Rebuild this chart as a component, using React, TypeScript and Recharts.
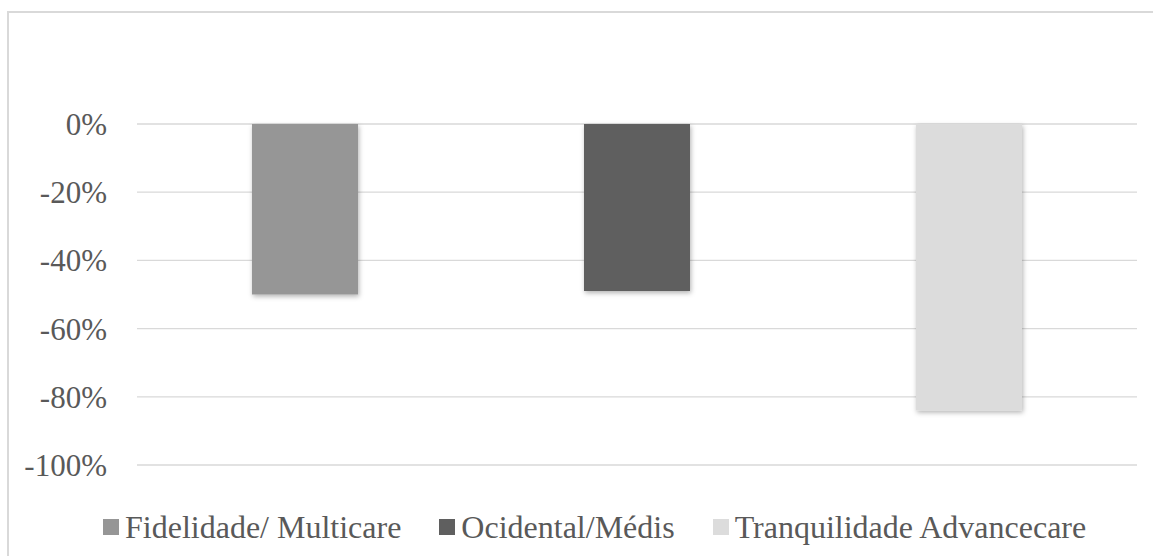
import { BarChart, Bar, XAxis, YAxis, CartesianGrid, Legend } from "recharts";

const seriesNames = ["Fidelidade/ Multicare", "Ocidental/Médis", "Tranquilidade Advancecare"];
const seriesValues = [-0.5, -0.49, -0.84];
const seriesColors = ["#969696", "#5f5f5f", "#dcdcdc"];
const yTicks = [0, -0.2, -0.4, -0.6, -0.8, -1];

const row: Record<string, number | string> = { name: "Variação" };
seriesNames.forEach((_, i) => {
  row[`s${i}`] = seriesValues[i];
});
const data = [row];

const font = "'Liberation Serif', 'Times New Roman', serif";

function LegendContent({ payload }: any) {
  return (
    <div style={{ display: "flex", alignItems: "center", height: 44, paddingLeft: 103, fontFamily: font, fontSize: 32, color: "#595959" }}>
      {(payload || []).map((p: any, i: number) => (
        <div key={i} style={{ display: "flex", alignItems: "center", marginRight: 38 }}>
          <span style={{ display: "inline-block", width: 16, height: 16, background: p.color, marginRight: 6 }} />
          <span style={{ whiteSpace: "nowrap" }}>{p.value}</span>
        </div>
      ))}
    </div>
  );
}

export default function App() {
  return (
    <div style={{ position: "absolute", left: 0, top: 0, width: 1153, height: 556, overflow: "hidden", background: "#fff" }}>
      <svg width={0} height={0} style={{ position: "absolute" }}>
        <defs>
          <filter id="barShadow" x="-20%" y="-20%" width="140%" height="140%">
            <feDropShadow dx={1} dy={2} stdDeviation={2.5} floodColor="#000" floodOpacity={0.3} />
          </filter>
        </defs>
      </svg>
      <div style={{ position: "absolute", left: 7, top: 11, width: 1300, height: 700, border: "2px solid #d9d9d9", boxSizing: "border-box" }} />
      <BarChart
        width={1153}
        height={556}
        data={data}
        margin={{ top: 124, right: 16, bottom: 47, left: 0 }}
        barSize={106}
        barGap={226}
        style={{ position: "absolute", left: 0, top: 0 }}
      >
        <CartesianGrid vertical={false} stroke="#d9d9d9" strokeWidth={1.3} />
        <XAxis dataKey="name" hide />
        <YAxis
          width={137}
          domain={[-1, 0]}
          ticks={yTicks}
          axisLine={false}
          tickLine={false}
          tickSize={0}
          tickMargin={30}
          tick={{ fill: "#595959", fontSize: 31, fontFamily: font }}
          tickFormatter={(v: number) => `${Math.round(v * 100)}%`}
        />
        <Legend verticalAlign="bottom" content={<LegendContent />} wrapperStyle={{ top: 505, left: 0, width: 1153 }} />
        {seriesNames.map((n, i) => (
          <Bar
            key={n}
            dataKey={`s${i}`}
            name={n}
            fill={seriesColors[i]}
            isAnimationActive={false}
            style={{ filter: "url(#barShadow)" }}
          />
        ))}
      </BarChart>
    </div>
  );
}
